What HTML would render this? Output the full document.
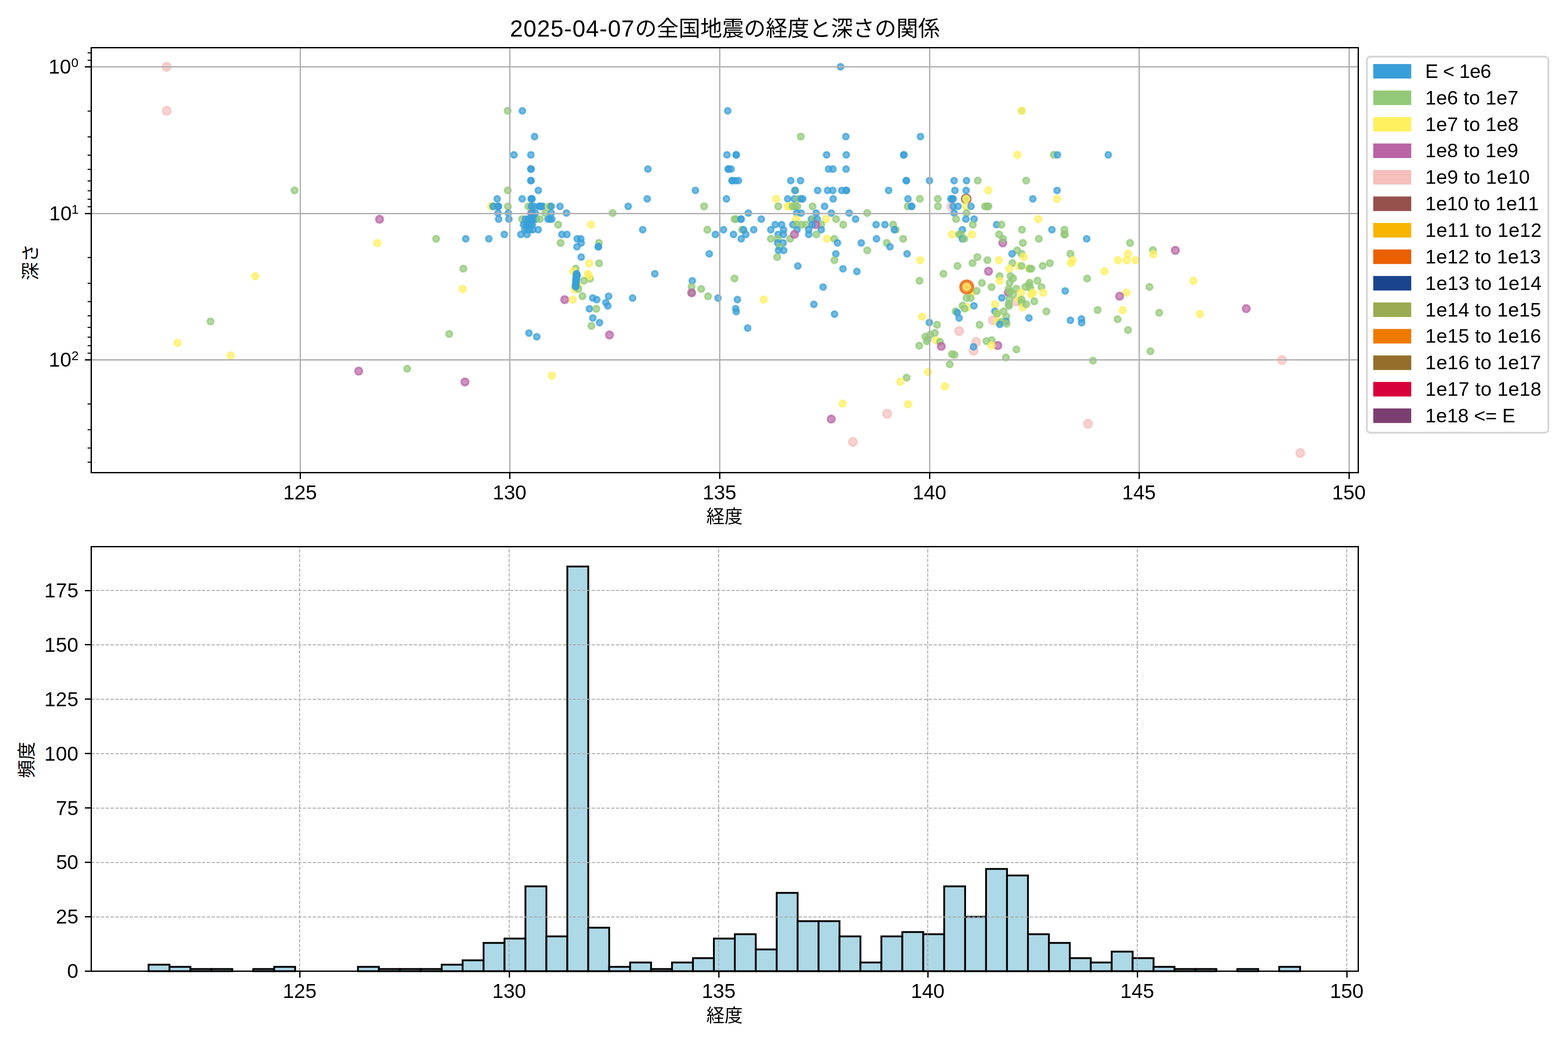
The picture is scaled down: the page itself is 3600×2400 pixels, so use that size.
<!DOCTYPE html>
<html lang="ja"><head><meta charset="utf-8"><title>2025-04-07 earthquakes: longitude vs depth</title>
<style>html,body{margin:0;padding:0;background:#fff}svg{display:block}</style></head>
<body>
<svg width="3600" height="2400" viewBox="0 0 3600 2400" font-family="'Liberation Sans', sans-serif" fill="#000">
<rect width="3600" height="2400" fill="#fff"/>
<clipPath id="ct"><rect x="209.5" y="109.5" width="2909" height="976"/></clipPath>
<g clip-path="url(#ct)" stroke-width="4.17" fill-opacity=".7" stroke-opacity=".7">
<g fill="#fff060" stroke="#fff060">
<circle cx="2230.8" cy="672.5" r="7.6"/>
</g>
<g fill="#ea6000" stroke="#ea6000">
<circle cx="2219.5" cy="659.1" r="15.3"/>
</g>
<g fill="#96504c" stroke="#96504c">
<circle cx="2218.3" cy="456.75" r="10.3"/>
</g>
<g fill="#f6bfbc" stroke="#f6bfbc">
<circle cx="382.5" cy="153.4" r="9.4"/>
<circle cx="382.8" cy="254.52" r="9.4"/>
<circle cx="2184.5" cy="473.93" r="9.4"/>
<circle cx="2202" cy="760.4" r="9.4"/>
<circle cx="2241.1" cy="785.3" r="9.4"/>
<circle cx="2235.3" cy="805.6" r="9.4"/>
<circle cx="2333.5" cy="692.5" r="9.4"/>
<circle cx="2279.5" cy="735.5" r="9.4"/>
<circle cx="1958.2" cy="1015" r="9.4"/>
<circle cx="2036.8" cy="950.3" r="9.4"/>
<circle cx="2498" cy="973.3" r="9.4"/>
<circle cx="2943.3" cy="826.9" r="9.4"/>
<circle cx="2985.3" cy="1040.5" r="9.4"/>
</g>
<g fill="#b964a5" stroke="#b964a5">
<circle cx="1220.6" cy="489.3" r="8.4"/>
<circle cx="871.4" cy="503.6" r="8.4"/>
<circle cx="1296.5" cy="688.3" r="8.4"/>
<circle cx="2302.3" cy="557.86" r="8.4"/>
<circle cx="2269.5" cy="622.97" r="8.4"/>
<circle cx="2314.8" cy="671.9" r="8.4"/>
<circle cx="2291" cy="793.5" r="8.4"/>
<circle cx="823.6" cy="852.3" r="8.4"/>
<circle cx="1067.5" cy="877.3" r="8.4"/>
<circle cx="1399.3" cy="769.3" r="8.4"/>
<circle cx="1908.5" cy="962.5" r="8.4"/>
<circle cx="2698.5" cy="575" r="8.4"/>
<circle cx="2861.3" cy="708.8" r="8.4"/>
</g>
<g fill="#92c978" stroke="#92c978">
<circle cx="676.3" cy="437.27" r="7.2"/>
</g>
<g fill="#fff060" stroke="#fff060">
<circle cx="586.3" cy="634.5" r="7.6"/>
</g>
<g fill="#92c978" stroke="#92c978">
<circle cx="483.3" cy="738.3" r="7.2"/>
</g>
<g fill="#fff060" stroke="#fff060">
<circle cx="407.5" cy="787.5" r="7.6"/>
<circle cx="529.3" cy="816.5" r="7.6"/>
</g>
<g fill="#92c978" stroke="#92c978">
<circle cx="1165.5" cy="254.52" r="7.2"/>
</g>
<g fill="#399fd9" stroke="#399fd9">
<circle cx="1199.3" cy="254.52" r="6.8"/>
<circle cx="1227.3" cy="313.67" r="6.8"/>
<circle cx="1180" cy="355.63" r="6.8"/>
<circle cx="1218.8" cy="355.63" r="6.8"/>
<circle cx="1218.8" cy="388.18" r="6.8"/>
<circle cx="1219.2" cy="388.18" r="6.8"/>
<circle cx="1218.8" cy="414.78" r="6.8"/>
<circle cx="1219.2" cy="414.78" r="6.8"/>
</g>
<g fill="#92c978" stroke="#92c978">
<circle cx="1165.8" cy="437.27" r="7.2"/>
</g>
<g fill="#399fd9" stroke="#399fd9">
<circle cx="1235.9" cy="437.27" r="6.8"/>
<circle cx="1141.5" cy="456.75" r="6.8"/>
<circle cx="1198.9" cy="456.75" r="6.8"/>
<circle cx="1219.5" cy="456.75" r="6.8"/>
<circle cx="1221.5" cy="456.75" r="6.8"/>
<circle cx="1220.4" cy="456.75" r="6.8"/>
</g>
<g fill="#fff060" stroke="#fff060">
<circle cx="1127.5" cy="473.93" r="7.6"/>
</g>
<g fill="#92c978" stroke="#92c978">
<circle cx="1132.3" cy="473.93" r="7.2"/>
</g>
<g fill="#399fd9" stroke="#399fd9">
<circle cx="1132.5" cy="473.93" r="6.8"/>
<circle cx="1144.1" cy="473.93" r="6.8"/>
<circle cx="1144.1" cy="473.93" r="6.8"/>
<circle cx="1143.5" cy="473.93" r="6.8"/>
</g>
<g fill="#92c978" stroke="#92c978">
<circle cx="1166" cy="473.93" r="7.2"/>
<circle cx="1213.1" cy="473.93" r="7.2"/>
<circle cx="1220" cy="473.93" r="7.2"/>
</g>
<g fill="#399fd9" stroke="#399fd9">
<circle cx="1220" cy="473.93" r="6.8"/>
<circle cx="1226" cy="473.93" r="6.8"/>
<circle cx="1237.5" cy="473.93" r="6.8"/>
<circle cx="1242.5" cy="473.93" r="6.8"/>
<circle cx="1246.9" cy="473.93" r="6.8"/>
<circle cx="1240" cy="473.93" r="6.8"/>
</g>
<g fill="#fff060" stroke="#fff060">
<circle cx="1260.5" cy="473.93" r="7.6"/>
</g>
<g fill="#92c978" stroke="#92c978">
<circle cx="1262.5" cy="473.93" r="7.2"/>
</g>
<g fill="#399fd9" stroke="#399fd9">
<circle cx="1265.6" cy="473.93" r="6.8"/>
<circle cx="1285.6" cy="473.93" r="6.8"/>
<circle cx="1143.5" cy="489.3" r="6.8"/>
<circle cx="1167.1" cy="489.3" r="6.8"/>
<circle cx="1222" cy="489.3" r="6.8"/>
<circle cx="1228.8" cy="489.3" r="6.8"/>
</g>
<g fill="#92c978" stroke="#92c978">
<circle cx="1251.9" cy="489.3" r="7.2"/>
</g>
<g fill="#399fd9" stroke="#399fd9">
<circle cx="1265.6" cy="489.3" r="6.8"/>
<circle cx="1300.6" cy="489.3" r="6.8"/>
<circle cx="1144.8" cy="503.2" r="6.8"/>
<circle cx="1168.4" cy="503.2" r="6.8"/>
</g>
<g fill="#92c978" stroke="#92c978">
<circle cx="1198.8" cy="503.2" r="7.2"/>
</g>
<g fill="#399fd9" stroke="#399fd9">
<circle cx="1206.3" cy="503.2" r="6.8"/>
<circle cx="1212.5" cy="503.2" r="6.8"/>
<circle cx="1220" cy="503.2" r="6.8"/>
<circle cx="1225" cy="503.2" r="6.8"/>
<circle cx="1216" cy="503.2" r="6.8"/>
<circle cx="1231.3" cy="503.2" r="6.8"/>
</g>
<g fill="#92c978" stroke="#92c978">
<circle cx="1239.4" cy="503.2" r="7.2"/>
</g>
<g fill="#399fd9" stroke="#399fd9">
<circle cx="1258.1" cy="503.2" r="6.8"/>
<circle cx="1262.5" cy="503.2" r="6.8"/>
<circle cx="1266.9" cy="503.2" r="6.8"/>
<circle cx="1201.9" cy="515.9" r="6.8"/>
<circle cx="1207.5" cy="515.9" r="6.8"/>
<circle cx="1212.5" cy="515.9" r="6.8"/>
<circle cx="1218.8" cy="515.9" r="6.8"/>
<circle cx="1222.5" cy="515.9" r="6.8"/>
<circle cx="1210" cy="515.9" r="6.8"/>
<circle cx="1215" cy="515.9" r="6.8"/>
</g>
<g fill="#92c978" stroke="#92c978">
<circle cx="1281.5" cy="515.9" r="7.2"/>
</g>
<g fill="#fff060" stroke="#fff060">
<circle cx="1356.9" cy="515.9" r="7.6"/>
</g>
<g fill="#399fd9" stroke="#399fd9">
<circle cx="1205" cy="527.57" r="6.8"/>
<circle cx="1210.6" cy="527.57" r="6.8"/>
<circle cx="1216.3" cy="527.57" r="6.8"/>
<circle cx="1223.1" cy="527.57" r="6.8"/>
<circle cx="1235.6" cy="527.57" r="6.8"/>
<circle cx="1157.8" cy="538.38" r="6.8"/>
<circle cx="1196" cy="538.38" r="6.8"/>
<circle cx="1210" cy="538.38" r="6.8"/>
<circle cx="1290" cy="538.38" r="6.8"/>
<circle cx="1301.5" cy="538.38" r="6.8"/>
<circle cx="1122.3" cy="548.45" r="6.8"/>
<circle cx="1069.3" cy="548.45" r="6.8"/>
<circle cx="1325" cy="548.45" r="6.8"/>
<circle cx="1333.5" cy="548.45" r="6.8"/>
</g>
<g fill="#92c978" stroke="#92c978">
<circle cx="1287.1" cy="557.86" r="7.2"/>
</g>
<g fill="#399fd9" stroke="#399fd9">
<circle cx="1334.4" cy="557.86" r="6.8"/>
</g>
<g fill="#92c978" stroke="#92c978">
<circle cx="1375" cy="557.86" r="7.2"/>
</g>
<g fill="#399fd9" stroke="#399fd9">
<circle cx="1324.6" cy="566.71" r="6.8"/>
<circle cx="1373.8" cy="566.71" r="6.8"/>
<circle cx="1373.8" cy="566.71" r="6.8"/>
<circle cx="1334.4" cy="590.42" r="6.8"/>
</g>
<g fill="#fff060" stroke="#fff060">
<circle cx="1352.8" cy="604.8" r="7.6"/>
</g>
<g fill="#92c978" stroke="#92c978">
<circle cx="1375.4" cy="604.8" r="7.2"/>
<circle cx="1321.9" cy="616.9" r="7.2"/>
</g>
<g fill="#fff060" stroke="#fff060">
<circle cx="1316.3" cy="623.1" r="7.6"/>
</g>
<g fill="#92c978" stroke="#92c978">
<circle cx="1325" cy="633.8" r="7.2"/>
<circle cx="1354.4" cy="640" r="7.2"/>
</g>
<g fill="#fff060" stroke="#fff060">
<circle cx="1349.4" cy="628.8" r="7.6"/>
<circle cx="1352.5" cy="635" r="7.6"/>
</g>
<g fill="#92c978" stroke="#92c978">
<circle cx="1340.6" cy="644.6" r="7.2"/>
</g>
<g fill="#fff060" stroke="#fff060">
<circle cx="1327.5" cy="655" r="7.6"/>
<circle cx="1319.4" cy="660" r="7.6"/>
<circle cx="1320" cy="665" r="7.6"/>
</g>
<g fill="#92c978" stroke="#92c978">
<circle cx="1328.1" cy="663.8" r="7.2"/>
</g>
<g fill="#399fd9" stroke="#399fd9">
<circle cx="1323.75" cy="628.75" r="6.8"/>
<circle cx="1323.75" cy="630" r="6.8"/>
<circle cx="1323.5" cy="633.12" r="6.8"/>
<circle cx="1323.25" cy="635.62" r="6.8"/>
<circle cx="1323.12" cy="637.5" r="6.8"/>
<circle cx="1322.88" cy="640" r="6.8"/>
<circle cx="1322.75" cy="641.88" r="6.8"/>
<circle cx="1322.62" cy="644" r="6.8"/>
<circle cx="1322.5" cy="646.25" r="6.8"/>
<circle cx="1322.38" cy="648.5" r="6.8"/>
<circle cx="1322.25" cy="650.62" r="6.8"/>
<circle cx="1322" cy="652.75" r="6.8"/>
<circle cx="1321.88" cy="655" r="6.8"/>
<circle cx="1321.5" cy="658.75" r="6.8"/>
<circle cx="1324.38" cy="631.25" r="6.8"/>
<circle cx="1321.25" cy="656.88" r="6.8"/>
</g>
<g fill="#92c978" stroke="#92c978">
<circle cx="1337.3" cy="680.4" r="7.2"/>
</g>
<g fill="#fff060" stroke="#fff060">
<circle cx="1315" cy="688.3" r="7.6"/>
</g>
<g fill="#399fd9" stroke="#399fd9">
<circle cx="1360.9" cy="684.4" r="6.8"/>
<circle cx="1370" cy="688.1" r="6.8"/>
<circle cx="1353.1" cy="709.1" r="6.8"/>
</g>
<g fill="#92c978" stroke="#92c978">
<circle cx="1369" cy="709.1" r="7.2"/>
</g>
<g fill="#399fd9" stroke="#399fd9">
<circle cx="1361" cy="730.3" r="6.8"/>
<circle cx="1376.5" cy="741" r="6.8"/>
</g>
<g fill="#92c978" stroke="#92c978">
<circle cx="1357.9" cy="748.5" r="7.2"/>
</g>
<g fill="#399fd9" stroke="#399fd9">
<circle cx="1214.4" cy="765" r="6.8"/>
<circle cx="1232.3" cy="773.4" r="6.8"/>
<circle cx="1929.8" cy="153.4" r="6.8"/>
<circle cx="1670.8" cy="254.52" r="6.8"/>
</g>
<g fill="#92c978" stroke="#92c978">
<circle cx="1838.5" cy="313.67" r="7.2"/>
</g>
<g fill="#399fd9" stroke="#399fd9">
<circle cx="1942" cy="313.67" r="6.8"/>
<circle cx="1669" cy="355.63" r="6.8"/>
<circle cx="1690.3" cy="355.63" r="6.8"/>
<circle cx="1690.3" cy="355.63" r="6.8"/>
<circle cx="1897.8" cy="355.63" r="6.8"/>
<circle cx="1943" cy="355.63" r="6.8"/>
<circle cx="1487.5" cy="388.18" r="6.8"/>
<circle cx="1671.8" cy="388.18" r="6.8"/>
<circle cx="1672.5" cy="388.18" r="6.8"/>
<circle cx="1678.5" cy="388.18" r="6.8"/>
<circle cx="1902.3" cy="388.18" r="6.8"/>
<circle cx="1912.3" cy="388.18" r="6.8"/>
<circle cx="1942.5" cy="388.18" r="6.8"/>
<circle cx="1680.5" cy="414.78" r="6.8"/>
<circle cx="1681.5" cy="414.78" r="6.8"/>
<circle cx="1688.5" cy="414.78" r="6.8"/>
<circle cx="1695.5" cy="414.78" r="6.8"/>
<circle cx="1815.5" cy="414.78" r="6.8"/>
<circle cx="1838" cy="414.78" r="6.8"/>
<circle cx="1596.6" cy="437.27" r="6.8"/>
</g>
<g fill="#92c978" stroke="#92c978">
<circle cx="1825.3" cy="437.27" r="7.2"/>
</g>
<g fill="#399fd9" stroke="#399fd9">
<circle cx="1825.5" cy="437.27" r="6.8"/>
<circle cx="1877.3" cy="437.27" r="6.8"/>
<circle cx="1900" cy="437.27" r="6.8"/>
<circle cx="1912" cy="437.27" r="6.8"/>
<circle cx="1932.5" cy="437.27" r="6.8"/>
<circle cx="1942.5" cy="437.27" r="6.8"/>
<circle cx="1943.5" cy="437.27" r="6.8"/>
<circle cx="1486" cy="456.75" r="6.8"/>
<circle cx="1667.8" cy="456.75" r="6.8"/>
</g>
<g fill="#fff060" stroke="#fff060">
<circle cx="1782" cy="456.75" r="7.6"/>
</g>
<g fill="#399fd9" stroke="#399fd9">
<circle cx="1808.4" cy="456.75" r="6.8"/>
<circle cx="1823.5" cy="456.75" r="6.8"/>
</g>
<g fill="#92c978" stroke="#92c978">
<circle cx="1832" cy="456.75" r="7.2"/>
</g>
<g fill="#399fd9" stroke="#399fd9">
<circle cx="1839.3" cy="456.75" r="6.8"/>
<circle cx="1843" cy="456.75" r="6.8"/>
<circle cx="1912.9" cy="456.75" r="6.8"/>
<circle cx="1442.3" cy="473.93" r="6.8"/>
</g>
<g fill="#92c978" stroke="#92c978">
<circle cx="1616.6" cy="473.93" r="7.2"/>
<circle cx="1786.9" cy="473.93" r="7.2"/>
</g>
<g fill="#fff060" stroke="#fff060">
<circle cx="1808.6" cy="473.93" r="7.6"/>
<circle cx="1813" cy="473.93" r="7.6"/>
</g>
<g fill="#92c978" stroke="#92c978">
<circle cx="1819.9" cy="473.93" r="7.2"/>
<circle cx="1825.5" cy="473.93" r="7.2"/>
<circle cx="1830.5" cy="473.93" r="7.2"/>
<circle cx="1865.6" cy="473.93" r="7.2"/>
</g>
<g fill="#399fd9" stroke="#399fd9">
<circle cx="1893.2" cy="473.93" r="6.8"/>
</g>
<g fill="#92c978" stroke="#92c978">
<circle cx="1406.5" cy="489.3" r="7.2"/>
</g>
<g fill="#399fd9" stroke="#399fd9">
<circle cx="1718.2" cy="489.3" r="6.8"/>
<circle cx="1829.3" cy="489.3" r="6.8"/>
<circle cx="1839.3" cy="489.3" r="6.8"/>
<circle cx="1873.8" cy="489.3" r="6.8"/>
<circle cx="1908.6" cy="489.3" r="6.8"/>
<circle cx="1949.6" cy="489.3" r="6.8"/>
</g>
<g fill="#92c978" stroke="#92c978">
<circle cx="1686.5" cy="503.2" r="7.2"/>
<circle cx="1689.9" cy="503.2" r="7.2"/>
</g>
<g fill="#399fd9" stroke="#399fd9">
<circle cx="1701.1" cy="503.2" r="6.8"/>
<circle cx="1701.5" cy="503.2" r="6.8"/>
<circle cx="1747.8" cy="503.2" r="6.8"/>
</g>
<g fill="#fff060" stroke="#fff060">
<circle cx="1827.6" cy="503.2" r="7.6"/>
</g>
<g fill="#399fd9" stroke="#399fd9">
<circle cx="1863" cy="503.2" r="6.8"/>
</g>
<g fill="#92c978" stroke="#92c978">
<circle cx="1866.8" cy="503.2" r="7.2"/>
</g>
<g fill="#399fd9" stroke="#399fd9">
<circle cx="1876.1" cy="503.2" r="6.8"/>
</g>
<g fill="#fff060" stroke="#fff060">
<circle cx="1896.5" cy="503.2" r="7.6"/>
</g>
<g fill="#92c978" stroke="#92c978">
<circle cx="1919.6" cy="503.2" r="7.2"/>
</g>
<g fill="#399fd9" stroke="#399fd9">
<circle cx="1964.3" cy="503.2" r="6.8"/>
<circle cx="1779.9" cy="515.9" r="6.8"/>
<circle cx="1794.5" cy="515.9" r="6.8"/>
<circle cx="1820.5" cy="515.9" r="6.8"/>
</g>
<g fill="#92c978" stroke="#92c978">
<circle cx="1829.3" cy="515.9" r="7.2"/>
<circle cx="1840.5" cy="515.9" r="7.2"/>
<circle cx="1850.5" cy="515.9" r="7.2"/>
<circle cx="1885.5" cy="515.9" r="7.2"/>
<circle cx="1935.9" cy="515.9" r="7.2"/>
</g>
<g fill="#399fd9" stroke="#399fd9">
<circle cx="1475.6" cy="527.57" r="6.8"/>
</g>
<g fill="#92c978" stroke="#92c978">
<circle cx="1624" cy="527.57" r="7.2"/>
</g>
<g fill="#399fd9" stroke="#399fd9">
<circle cx="1661.1" cy="527.57" r="6.8"/>
</g>
<g fill="#92c978" stroke="#92c978">
<circle cx="1703.6" cy="527.57" r="7.2"/>
</g>
<g fill="#399fd9" stroke="#399fd9">
<circle cx="1707.4" cy="527.57" r="6.8"/>
<circle cx="1730.5" cy="527.57" r="6.8"/>
<circle cx="1769.6" cy="527.57" r="6.8"/>
<circle cx="1799" cy="527.57" r="6.8"/>
<circle cx="1829.9" cy="527.57" r="6.8"/>
<circle cx="1856.8" cy="527.57" r="6.8"/>
<circle cx="1885.5" cy="527.57" r="6.8"/>
<circle cx="1642.5" cy="538.38" r="6.8"/>
<circle cx="1684" cy="538.38" r="6.8"/>
<circle cx="1712.4" cy="538.38" r="6.8"/>
<circle cx="1786.8" cy="538.38" r="6.8"/>
<circle cx="1798.6" cy="538.38" r="6.8"/>
<circle cx="1856.8" cy="538.38" r="6.8"/>
</g>
<g fill="#92c978" stroke="#92c978">
<circle cx="1874.3" cy="538.38" r="7.2"/>
</g>
<g fill="#399fd9" stroke="#399fd9">
<circle cx="1701.8" cy="548.45" r="6.8"/>
</g>
<g fill="#92c978" stroke="#92c978">
<circle cx="1769.9" cy="548.45" r="7.2"/>
<circle cx="1786" cy="548.45" r="7.2"/>
<circle cx="1814" cy="548.45" r="7.2"/>
</g>
<g fill="#fff060" stroke="#fff060">
<circle cx="1899" cy="548.45" r="7.6"/>
</g>
<g fill="#92c978" stroke="#92c978">
<circle cx="1915.5" cy="548.45" r="7.2"/>
</g>
<g fill="#399fd9" stroke="#399fd9">
<circle cx="1785.5" cy="557.86" r="6.8"/>
<circle cx="1798" cy="557.86" r="6.8"/>
<circle cx="1922.8" cy="557.86" r="6.8"/>
<circle cx="1977.4" cy="557.86" r="6.8"/>
</g>
<g fill="#92c978" stroke="#92c978">
<circle cx="1789.9" cy="566.71" r="7.2"/>
</g>
<g fill="#399fd9" stroke="#399fd9">
<circle cx="1787.4" cy="575.05" r="6.8"/>
<circle cx="1799.3" cy="575.05" r="6.8"/>
<circle cx="1628.4" cy="582.93" r="6.8"/>
<circle cx="1919" cy="582.93" r="6.8"/>
</g>
<g fill="#92c978" stroke="#92c978">
<circle cx="1784.3" cy="590.42" r="7.2"/>
<circle cx="1915.8" cy="597.53" r="7.2"/>
</g>
<g fill="#399fd9" stroke="#399fd9">
<circle cx="1831.8" cy="611" r="6.8"/>
<circle cx="1935.3" cy="617.3" r="6.8"/>
<circle cx="1967.4" cy="623.5" r="6.8"/>
<circle cx="1503.4" cy="628.8" r="6.8"/>
</g>
<g fill="#92c978" stroke="#92c978">
<circle cx="1686.3" cy="639.5" r="7.2"/>
<circle cx="2345.8" cy="254.52" r="7.2"/>
</g>
<g fill="#fff060" stroke="#fff060">
<circle cx="2345.8" cy="254.52" r="7.6"/>
</g>
<g fill="#399fd9" stroke="#399fd9">
<circle cx="2113.3" cy="313.67" r="6.8"/>
<circle cx="2075" cy="355.63" r="6.8"/>
<circle cx="2075" cy="355.63" r="6.8"/>
</g>
<g fill="#fff060" stroke="#fff060">
<circle cx="2335.8" cy="355.63" r="7.6"/>
</g>
<g fill="#92c978" stroke="#92c978">
<circle cx="2419.5" cy="355.63" r="7.2"/>
</g>
<g fill="#399fd9" stroke="#399fd9">
<circle cx="2427.8" cy="355.63" r="6.8"/>
<circle cx="2544.5" cy="355.63" r="6.8"/>
<circle cx="2080.8" cy="414.78" r="6.8"/>
<circle cx="2080.8" cy="414.78" r="6.8"/>
<circle cx="2134" cy="414.78" r="6.8"/>
<circle cx="2190.5" cy="414.78" r="6.8"/>
<circle cx="2219" cy="414.78" r="6.8"/>
</g>
<g fill="#92c978" stroke="#92c978">
<circle cx="2244.8" cy="414.78" r="7.2"/>
<circle cx="2356" cy="414.78" r="7.2"/>
</g>
<g fill="#399fd9" stroke="#399fd9">
<circle cx="2040.2" cy="437.27" r="6.8"/>
<circle cx="2192.4" cy="437.27" r="6.8"/>
<circle cx="2218.2" cy="437.27" r="6.8"/>
</g>
<g fill="#fff060" stroke="#fff060">
<circle cx="2269" cy="437.27" r="7.6"/>
</g>
<g fill="#399fd9" stroke="#399fd9">
<circle cx="2427" cy="437.27" r="6.8"/>
<circle cx="2084.6" cy="456.75" r="6.8"/>
</g>
<g fill="#92c978" stroke="#92c978">
<circle cx="2111.8" cy="456.75" r="7.2"/>
<circle cx="2153.1" cy="456.75" r="7.2"/>
</g>
<g fill="#399fd9" stroke="#399fd9">
<circle cx="2183" cy="456.75" r="6.8"/>
<circle cx="2188.6" cy="456.75" r="6.8"/>
<circle cx="2186" cy="456.75" r="6.8"/>
</g>
<g fill="#92c978" stroke="#92c978">
<circle cx="2218.3" cy="456.75" r="7.2"/>
</g>
<g fill="#fff060" stroke="#fff060">
<circle cx="2218.3" cy="456.75" r="7.6"/>
</g>
<g fill="#399fd9" stroke="#399fd9">
<circle cx="2371.2" cy="456.75" r="6.8"/>
</g>
<g fill="#fff060" stroke="#fff060">
<circle cx="2426.8" cy="456.75" r="7.6"/>
</g>
<g fill="#92c978" stroke="#92c978">
<circle cx="2084" cy="473.93" r="7.2"/>
</g>
<g fill="#399fd9" stroke="#399fd9">
<circle cx="2093" cy="473.93" r="6.8"/>
<circle cx="2093" cy="473.93" r="6.8"/>
</g>
<g fill="#92c978" stroke="#92c978">
<circle cx="2153.4" cy="473.93" r="7.2"/>
</g>
<g fill="#399fd9" stroke="#399fd9">
<circle cx="2188.3" cy="473.93" r="6.8"/>
<circle cx="2199.6" cy="473.93" r="6.8"/>
</g>
<g fill="#fff060" stroke="#fff060">
<circle cx="2217.7" cy="473.93" r="7.6"/>
</g>
<g fill="#399fd9" stroke="#399fd9">
<circle cx="2229.5" cy="473.93" r="6.8"/>
</g>
<g fill="#92c978" stroke="#92c978">
<circle cx="2261.4" cy="473.93" r="7.2"/>
<circle cx="2266.4" cy="473.93" r="7.2"/>
<circle cx="2269.5" cy="473.93" r="7.2"/>
<circle cx="1991" cy="489.3" r="7.2"/>
</g>
<g fill="#399fd9" stroke="#399fd9">
<circle cx="2190.6" cy="489.3" r="6.8"/>
</g>
<g fill="#92c978" stroke="#92c978">
<circle cx="2219.1" cy="489.3" r="7.2"/>
<circle cx="2195.1" cy="503.2" r="7.2"/>
</g>
<g fill="#399fd9" stroke="#399fd9">
<circle cx="2217.6" cy="503.2" r="6.8"/>
<circle cx="2236.4" cy="503.2" r="6.8"/>
</g>
<g fill="#fff060" stroke="#fff060">
<circle cx="2383.8" cy="503.2" r="7.6"/>
</g>
<g fill="#399fd9" stroke="#399fd9">
<circle cx="2011.4" cy="515.9" r="6.8"/>
<circle cx="2031.8" cy="515.9" r="6.8"/>
</g>
<g fill="#92c978" stroke="#92c978">
<circle cx="2050.5" cy="515.9" r="7.2"/>
<circle cx="2233.5" cy="515.9" r="7.2"/>
</g>
<g fill="#399fd9" stroke="#399fd9">
<circle cx="2288.1" cy="515.9" r="6.8"/>
</g>
<g fill="#92c978" stroke="#92c978">
<circle cx="2299.1" cy="515.9" r="7.2"/>
<circle cx="2056.4" cy="527.57" r="7.2"/>
</g>
<g fill="#399fd9" stroke="#399fd9">
<circle cx="2053.3" cy="527.57" r="6.8"/>
<circle cx="2209.5" cy="527.57" r="6.8"/>
</g>
<g fill="#92c978" stroke="#92c978">
<circle cx="2346.4" cy="527.57" r="7.2"/>
</g>
<g fill="#399fd9" stroke="#399fd9">
<circle cx="2415.1" cy="527.57" r="6.8"/>
</g>
<g fill="#92c978" stroke="#92c978">
<circle cx="2443.9" cy="527.57" r="7.2"/>
</g>
<g fill="#fff060" stroke="#fff060">
<circle cx="2185.5" cy="538.38" r="7.6"/>
</g>
<g fill="#92c978" stroke="#92c978">
<circle cx="2202" cy="538.38" r="7.2"/>
<circle cx="2205.8" cy="538.38" r="7.2"/>
</g>
<g fill="#fff060" stroke="#fff060">
<circle cx="2231.4" cy="538.38" r="7.6"/>
</g>
<g fill="#92c978" stroke="#92c978">
<circle cx="2293.8" cy="538.38" r="7.2"/>
<circle cx="2443.9" cy="538.38" r="7.2"/>
<circle cx="2444.5" cy="538.38" r="7.2"/>
</g>
<g fill="#399fd9" stroke="#399fd9">
<circle cx="2012.4" cy="548.45" r="6.8"/>
</g>
<g fill="#92c978" stroke="#92c978">
<circle cx="2073.6" cy="548.45" r="7.2"/>
</g>
<g fill="#399fd9" stroke="#399fd9">
<circle cx="2209.5" cy="548.45" r="6.8"/>
</g>
<g fill="#92c978" stroke="#92c978">
<circle cx="2213.9" cy="548.45" r="7.2"/>
<circle cx="2302.9" cy="548.45" r="7.2"/>
<circle cx="2385" cy="548.45" r="7.2"/>
</g>
<g fill="#399fd9" stroke="#399fd9">
<circle cx="2495" cy="548.45" r="6.8"/>
</g>
<g fill="#92c978" stroke="#92c978">
<circle cx="2036" cy="557.86" r="7.2"/>
<circle cx="2348.3" cy="557.86" r="7.2"/>
<circle cx="2594.5" cy="557.86" r="7.2"/>
</g>
<g fill="#399fd9" stroke="#399fd9">
<circle cx="2043.3" cy="566.71" r="6.8"/>
</g>
<g fill="#92c978" stroke="#92c978">
<circle cx="1991.1" cy="575.05" r="7.2"/>
<circle cx="2335.4" cy="575.05" r="7.2"/>
</g>
<g fill="#399fd9" stroke="#399fd9">
<circle cx="2082.6" cy="582.93" r="6.8"/>
<circle cx="2323.5" cy="582.93" r="6.8"/>
</g>
<g fill="#92c978" stroke="#92c978">
<circle cx="2345.6" cy="582.93" r="7.2"/>
<circle cx="2457.6" cy="582.93" r="7.2"/>
</g>
<g fill="#fff060" stroke="#fff060">
<circle cx="2589.5" cy="582.93" r="7.6"/>
</g>
<g fill="#92c978" stroke="#92c978">
<circle cx="2243.9" cy="590.42" r="7.2"/>
</g>
<g fill="#fff060" stroke="#fff060">
<circle cx="2350.6" cy="590.42" r="7.6"/>
<circle cx="2112.6" cy="597.53" r="7.6"/>
</g>
<g fill="#92c978" stroke="#92c978">
<circle cx="2267" cy="597.53" r="7.2"/>
</g>
<g fill="#fff060" stroke="#fff060">
<circle cx="2293.5" cy="597.53" r="7.6"/>
<circle cx="2462.5" cy="597.53" r="7.6"/>
<circle cx="2566.7" cy="597.53" r="7.6"/>
<circle cx="2586.8" cy="597.53" r="7.6"/>
<circle cx="2607" cy="597.53" r="7.6"/>
</g>
<g fill="#92c978" stroke="#92c978">
<circle cx="2232.9" cy="604.32" r="7.2"/>
<circle cx="2324.4" cy="604.32" r="7.2"/>
<circle cx="2410.4" cy="604.32" r="7.2"/>
</g>
<g fill="#fff060" stroke="#fff060">
<circle cx="2458.9" cy="604.32" r="7.6"/>
</g>
<g fill="#92c978" stroke="#92c978">
<circle cx="2198.3" cy="610.8" r="7.2"/>
</g>
<g fill="#fff060" stroke="#fff060">
<circle cx="2339.1" cy="610.8" r="7.6"/>
</g>
<g fill="#92c978" stroke="#92c978">
<circle cx="2345.4" cy="610.8" r="7.2"/>
<circle cx="2393.9" cy="610.8" r="7.2"/>
</g>
<g fill="#fff060" stroke="#fff060">
<circle cx="2317.3" cy="617.01" r="7.6"/>
<circle cx="2362.3" cy="617.01" r="7.6"/>
</g>
<g fill="#92c978" stroke="#92c978">
<circle cx="2364.1" cy="617.01" r="7.2"/>
<circle cx="2367.9" cy="617.01" r="7.2"/>
</g>
<g fill="#fff060" stroke="#fff060">
<circle cx="2535.8" cy="622.97" r="7.6"/>
</g>
<g fill="#92c978" stroke="#92c978">
<circle cx="2166.1" cy="628.8" r="7.2"/>
<circle cx="2111" cy="644.8" r="7.2"/>
</g>
<g fill="#fff060" stroke="#fff060">
<circle cx="2219.5" cy="659.1" r="7.6"/>
</g>
<g fill="#92c978" stroke="#92c978">
<circle cx="2254.5" cy="649.8" r="7.2"/>
<circle cx="2276.5" cy="659.4" r="7.2"/>
<circle cx="2242.4" cy="668.1" r="7.2"/>
<circle cx="2219.1" cy="684.4" r="7.2"/>
<circle cx="2228.5" cy="684.4" r="7.2"/>
<circle cx="2210.1" cy="701.9" r="7.2"/>
</g>
<g fill="#fff060" stroke="#fff060">
<circle cx="2221" cy="705.6" r="7.6"/>
</g>
<g fill="#92c978" stroke="#92c978">
<circle cx="2214.5" cy="708.8" r="7.2"/>
</g>
<g fill="#399fd9" stroke="#399fd9">
<circle cx="2236.1" cy="702.3" r="6.8"/>
</g>
<g fill="#92c978" stroke="#92c978">
<circle cx="2193.9" cy="715" r="7.2"/>
</g>
<g fill="#399fd9" stroke="#399fd9">
<circle cx="2197.9" cy="717.9" r="6.8"/>
<circle cx="2202" cy="730.3" r="6.8"/>
</g>
<g fill="#fff060" stroke="#fff060">
<circle cx="2116.8" cy="727.3" r="7.6"/>
</g>
<g fill="#399fd9" stroke="#399fd9">
<circle cx="2133.6" cy="740.6" r="6.8"/>
</g>
<g fill="#92c978" stroke="#92c978">
<circle cx="2151.4" cy="745.9" r="7.2"/>
<circle cx="2249.1" cy="745.9" r="7.2"/>
<circle cx="2146.1" cy="764.8" r="7.2"/>
<circle cx="2135.8" cy="768.8" r="7.2"/>
<circle cx="2124.5" cy="773.1" r="7.2"/>
<circle cx="2130.1" cy="778.8" r="7.2"/>
<circle cx="2127.6" cy="783.8" r="7.2"/>
</g>
<g fill="#fff060" stroke="#fff060">
<circle cx="2149.5" cy="781.6" r="7.6"/>
</g>
<g fill="#92c978" stroke="#92c978">
<circle cx="2158.3" cy="785" r="7.2"/>
<circle cx="2110.6" cy="794" r="7.2"/>
<circle cx="2264.8" cy="783.4" r="7.2"/>
<circle cx="2277" cy="781.2" r="7.2"/>
</g>
<g fill="#399fd9" stroke="#399fd9">
<circle cx="2235.1" cy="796.5" r="6.8"/>
</g>
<g fill="#fff060" stroke="#fff060">
<circle cx="2276.5" cy="793.5" r="7.6"/>
</g>
<g fill="#92c978" stroke="#92c978">
<circle cx="2185.6" cy="813.4" r="7.2"/>
<circle cx="2191.6" cy="815" r="7.2"/>
<circle cx="2295" cy="634.1" r="7.2"/>
</g>
<g fill="#fff060" stroke="#fff060">
<circle cx="2295.4" cy="645" r="7.6"/>
</g>
<g fill="#92c978" stroke="#92c978">
<circle cx="2320" cy="634.1" r="7.2"/>
<circle cx="2326" cy="639.4" r="7.2"/>
<circle cx="2318.1" cy="649.8" r="7.2"/>
<circle cx="2496" cy="639.8" r="7.2"/>
<circle cx="2382" cy="644.6" r="7.2"/>
<circle cx="2363.8" cy="649.4" r="7.2"/>
<circle cx="2362.3" cy="655" r="7.2"/>
<circle cx="2354.1" cy="659.1" r="7.2"/>
<circle cx="2365.4" cy="661.3" r="7.2"/>
<circle cx="2391" cy="659.1" r="7.2"/>
<circle cx="2315.8" cy="663.8" r="7.2"/>
<circle cx="2333.5" cy="663.1" r="7.2"/>
<circle cx="2318.5" cy="670" r="7.2"/>
<circle cx="2326" cy="676.3" r="7.2"/>
</g>
<g fill="#fff060" stroke="#fff060">
<circle cx="2344.1" cy="672.3" r="7.6"/>
<circle cx="2371.6" cy="672.3" r="7.6"/>
<circle cx="2367.3" cy="676.3" r="7.6"/>
<circle cx="2395" cy="672.3" r="7.6"/>
</g>
<g fill="#399fd9" stroke="#399fd9">
<circle cx="2445.6" cy="668.1" r="6.8"/>
<circle cx="2300.1" cy="684.1" r="6.8"/>
</g>
<g fill="#92c978" stroke="#92c978">
<circle cx="2317.3" cy="687.5" r="7.2"/>
<circle cx="2315.4" cy="698.1" r="7.2"/>
<circle cx="2316.6" cy="702.5" r="7.2"/>
</g>
<g fill="#fff060" stroke="#fff060">
<circle cx="2339.8" cy="688.1" r="7.6"/>
</g>
<g fill="#92c978" stroke="#92c978">
<circle cx="2345.4" cy="688.1" r="7.2"/>
<circle cx="2345.4" cy="695" r="7.2"/>
</g>
<g fill="#fff060" stroke="#fff060">
<circle cx="2348.1" cy="705.6" r="7.6"/>
</g>
<g fill="#92c978" stroke="#92c978">
<circle cx="2356" cy="698.8" r="7.2"/>
<circle cx="2374.5" cy="691.9" r="7.2"/>
</g>
<g fill="#fff060" stroke="#fff060">
<circle cx="2284.8" cy="698.8" r="7.6"/>
</g>
<g fill="#92c978" stroke="#92c978">
<circle cx="2402.5" cy="715.3" r="7.2"/>
<circle cx="2520" cy="712.1" r="7.2"/>
</g>
<g fill="#399fd9" stroke="#399fd9">
<circle cx="2284.1" cy="715" r="6.8"/>
</g>
<g fill="#92c978" stroke="#92c978">
<circle cx="2304.1" cy="715" r="7.2"/>
</g>
<g fill="#fff060" stroke="#fff060">
<circle cx="2289.1" cy="720.6" r="7.6"/>
</g>
<g fill="#92c978" stroke="#92c978">
<circle cx="2289.1" cy="720.6" r="7.2"/>
<circle cx="2310.4" cy="726.9" r="7.2"/>
</g>
<g fill="#fff060" stroke="#fff060">
<circle cx="2289.8" cy="738.8" r="7.6"/>
</g>
<g fill="#399fd9" stroke="#399fd9">
<circle cx="2309.8" cy="738.1" r="6.8"/>
</g>
<g fill="#92c978" stroke="#92c978">
<circle cx="2299.1" cy="738.8" r="7.2"/>
</g>
<g fill="#399fd9" stroke="#399fd9">
<circle cx="2295.4" cy="745" r="6.8"/>
</g>
<g fill="#92c978" stroke="#92c978">
<circle cx="2311" cy="743.5" r="7.2"/>
</g>
<g fill="#399fd9" stroke="#399fd9">
<circle cx="2362.3" cy="730.3" r="6.8"/>
<circle cx="2457.6" cy="735.6" r="6.8"/>
<circle cx="2482.9" cy="732.5" r="6.8"/>
<circle cx="2483.3" cy="741.3" r="6.8"/>
</g>
<g fill="#92c978" stroke="#92c978">
<circle cx="2566" cy="733" r="7.2"/>
</g>
<g fill="#fff060" stroke="#fff060">
<circle cx="2577.5" cy="712.3" r="7.6"/>
</g>
<g fill="#92c978" stroke="#92c978">
<circle cx="2333.6" cy="802.5" r="7.2"/>
<circle cx="2309.4" cy="821" r="7.2"/>
</g>
<g fill="#fff060" stroke="#fff060">
<circle cx="866.3" cy="558.3" r="7.6"/>
</g>
<g fill="#92c978" stroke="#92c978">
<circle cx="1001.3" cy="548.45" r="7.2"/>
<circle cx="1063.8" cy="617" r="7.2"/>
</g>
<g fill="#fff060" stroke="#fff060">
<circle cx="1062.3" cy="663.8" r="7.6"/>
</g>
<g fill="#92c978" stroke="#92c978">
<circle cx="1031.3" cy="767" r="7.2"/>
<circle cx="935" cy="846.8" r="7.2"/>
</g>
<g fill="#fff060" stroke="#fff060">
<circle cx="1266.9" cy="862.6" r="7.6"/>
</g>
<g fill="#399fd9" stroke="#399fd9">
<circle cx="1589.5" cy="645" r="6.8"/>
</g>
<g fill="#92c978" stroke="#92c978">
<circle cx="1587.8" cy="658.8" r="7.2"/>
<circle cx="1588" cy="672.5" r="7.2"/>
<circle cx="1609.8" cy="663.8" r="7.2"/>
<circle cx="1625.5" cy="680.5" r="7.2"/>
</g>
<g fill="#399fd9" stroke="#399fd9">
<circle cx="1648.5" cy="684.5" r="6.8"/>
<circle cx="1693" cy="688" r="6.8"/>
<circle cx="1689" cy="708.8" r="6.8"/>
<circle cx="1690.3" cy="715.8" r="6.8"/>
</g>
<g fill="#fff060" stroke="#fff060">
<circle cx="1753.5" cy="688" r="7.6"/>
</g>
<g fill="#399fd9" stroke="#399fd9">
<circle cx="1716.5" cy="753.5" r="6.8"/>
<circle cx="1397.3" cy="680.3" r="6.8"/>
<circle cx="1391" cy="695" r="6.8"/>
<circle cx="1395.5" cy="702.5" r="6.8"/>
<circle cx="1452.3" cy="684.5" r="6.8"/>
<circle cx="1889.8" cy="659.3" r="6.8"/>
<circle cx="1868.5" cy="699" r="6.8"/>
<circle cx="1916" cy="721.5" r="6.8"/>
</g>
<g fill="#fff060" stroke="#fff060">
<circle cx="1934.5" cy="926.8" r="7.6"/>
</g>
<g fill="#92c978" stroke="#92c978">
<circle cx="2509.3" cy="828.3" r="7.2"/>
<circle cx="2180.5" cy="836.8" r="7.2"/>
</g>
<g fill="#fff060" stroke="#fff060">
<circle cx="2130.5" cy="854.5" r="7.6"/>
</g>
<g fill="#92c978" stroke="#92c978">
<circle cx="2081.5" cy="867.3" r="7.2"/>
</g>
<g fill="#fff060" stroke="#fff060">
<circle cx="2067" cy="876.8" r="7.6"/>
<circle cx="2169.3" cy="887.5" r="7.6"/>
<circle cx="2085" cy="928.3" r="7.6"/>
</g>
<g fill="#92c978" stroke="#92c978">
<circle cx="2647" cy="574.5" r="7.2"/>
</g>
<g fill="#fff060" stroke="#fff060">
<circle cx="2648" cy="583.8" r="7.6"/>
<circle cx="2739.8" cy="644.8" r="7.6"/>
</g>
<g fill="#92c978" stroke="#92c978">
<circle cx="2639" cy="659" r="7.2"/>
</g>
<g fill="#fff060" stroke="#fff060">
<circle cx="2586.3" cy="672" r="7.6"/>
</g>
<g fill="#92c978" stroke="#92c978">
<circle cx="2661.5" cy="718.3" r="7.2"/>
</g>
<g fill="#fff060" stroke="#fff060">
<circle cx="2755" cy="721.3" r="7.6"/>
</g>
<g fill="#92c978" stroke="#92c978">
<circle cx="2589.8" cy="758" r="7.2"/>
<circle cx="2641.3" cy="806.8" r="7.2"/>
</g>
<g fill="#b964a5" stroke="#b964a5">
<circle cx="1872.8" cy="515.9" r="8.4"/>
<circle cx="1823.9" cy="538.38" r="8.4"/>
<circle cx="2161.1" cy="795.5" r="8.4"/>
<circle cx="2570.5" cy="680.3" r="8.4"/>
<circle cx="1588" cy="672.5" r="8.4"/>
</g>
<g fill="#399fd9" stroke="#399fd9">
<circle cx="1864.9" cy="515.9" r="6.8"/>
</g></g>
<g stroke="#b0b0b0" stroke-width="3">
<line x1="689.5" y1="109.5" x2="689.5" y2="1085.5"/>
<line x1="1170.5" y1="109.5" x2="1170.5" y2="1085.5"/>
<line x1="1652.5" y1="109.5" x2="1652.5" y2="1085.5"/>
<line x1="2134.5" y1="109.5" x2="2134.5" y2="1085.5"/>
<line x1="2615.5" y1="109.5" x2="2615.5" y2="1085.5"/>
<line x1="3097.5" y1="109.5" x2="3097.5" y2="1085.5"/>
<line x1="209.5" y1="153.5" x2="3118.5" y2="153.5"/>
<line x1="209.5" y1="490.5" x2="3118.5" y2="490.5"/>
<line x1="209.5" y1="826.5" x2="3118.5" y2="826.5"/>
</g>
<g stroke="#000" stroke-width="3">
<line x1="689.5" y1="1085.5" x2="689.5" y2="1100.1"/>
<line x1="1170.5" y1="1085.5" x2="1170.5" y2="1100.1"/>
<line x1="1652.5" y1="1085.5" x2="1652.5" y2="1100.1"/>
<line x1="2134.5" y1="1085.5" x2="2134.5" y2="1100.1"/>
<line x1="2615.5" y1="1085.5" x2="2615.5" y2="1100.1"/>
<line x1="3097.5" y1="1085.5" x2="3097.5" y2="1100.1"/>
<line x1="194.9" y1="153.5" x2="209.5" y2="153.5"/>
<line x1="194.9" y1="490.5" x2="209.5" y2="490.5"/>
<line x1="194.9" y1="826.5" x2="209.5" y2="826.5"/>
</g>
<g stroke="#000" stroke-width="2.5">
<line x1="201.17" y1="121.31" x2="209.5" y2="121.31"/>
<line x1="201.17" y1="138.51" x2="209.5" y2="138.51"/>
<line x1="201.17" y1="255.14" x2="209.5" y2="255.14"/>
<line x1="201.17" y1="314.36" x2="209.5" y2="314.36"/>
<line x1="201.17" y1="356.37" x2="209.5" y2="356.37"/>
<line x1="201.17" y1="388.96" x2="209.5" y2="388.96"/>
<line x1="201.17" y1="415.59" x2="209.5" y2="415.59"/>
<line x1="201.17" y1="438.11" x2="209.5" y2="438.11"/>
<line x1="201.17" y1="457.61" x2="209.5" y2="457.61"/>
<line x1="201.17" y1="474.81" x2="209.5" y2="474.81"/>
<line x1="201.17" y1="591.44" x2="209.5" y2="591.44"/>
<line x1="201.17" y1="650.66" x2="209.5" y2="650.66"/>
<line x1="201.17" y1="692.67" x2="209.5" y2="692.67"/>
<line x1="201.17" y1="725.26" x2="209.5" y2="725.26"/>
<line x1="201.17" y1="751.89" x2="209.5" y2="751.89"/>
<line x1="201.17" y1="774.41" x2="209.5" y2="774.41"/>
<line x1="201.17" y1="793.91" x2="209.5" y2="793.91"/>
<line x1="201.17" y1="811.11" x2="209.5" y2="811.11"/>
<line x1="201.17" y1="927.74" x2="209.5" y2="927.74"/>
<line x1="201.17" y1="986.96" x2="209.5" y2="986.96"/>
<line x1="201.17" y1="1028.97" x2="209.5" y2="1028.97"/>
<line x1="201.17" y1="1061.56" x2="209.5" y2="1061.56"/>
</g>
<rect x="209.5" y="109.5" width="2909" height="976" fill="none" stroke="#000" stroke-width="3"/>
<rect x="3138.2" y="130.1" width="416.7" height="863.8" rx="8.3" fill="#fff" fill-opacity=".8" stroke="#ccc" stroke-opacity=".8" stroke-width="4.17"/>
<rect x="3152.9" y="147" width="87.2" height="33.4" fill="#399fd9"/>
<rect x="3152.9" y="207.85" width="87.2" height="33.4" fill="#92c978"/>
<rect x="3152.9" y="268.7" width="87.2" height="33.4" fill="#fff060"/>
<rect x="3152.9" y="329.55" width="87.2" height="33.4" fill="#b964a5"/>
<rect x="3152.9" y="390.4" width="87.2" height="33.4" fill="#f6bfbc"/>
<rect x="3152.9" y="451.25" width="87.2" height="33.4" fill="#96504c"/>
<rect x="3152.9" y="512.1" width="87.2" height="33.4" fill="#f6b500"/>
<rect x="3152.9" y="572.95" width="87.2" height="33.4" fill="#ea6000"/>
<rect x="3152.9" y="633.8" width="87.2" height="33.4" fill="#1b448e"/>
<rect x="3152.9" y="694.65" width="87.2" height="33.4" fill="#9bab50"/>
<rect x="3152.9" y="755.5" width="87.2" height="33.4" fill="#ef7a00"/>
<rect x="3152.9" y="816.35" width="87.2" height="33.4" fill="#946e2a"/>
<rect x="3152.9" y="877.2" width="87.2" height="33.4" fill="#d7003a"/>
<rect x="3152.9" y="938.05" width="87.2" height="33.4" fill="#7c4070"/>
<g style="font-kerning:none;will-change:transform">
<text x="650.16" y="1147.1" font-size="46.5" letter-spacing="-0.04">125</text>
<text x="1131.16" y="1147.1" font-size="46.5" letter-spacing="-0.11">130</text>
<text x="1613.16" y="1147.1" font-size="46.5" letter-spacing="-0.04">135</text>
<text x="2095.16" y="1147.1" font-size="46.5" letter-spacing="-0.11">140</text>
<text x="2576.16" y="1147.1" font-size="46.5" letter-spacing="-0.04">145</text>
<text x="3058.16" y="1147.1" font-size="46.5" letter-spacing="-0.11">150</text>
<text x="163.59" y="153.7" font-size="30">0</text>
<text x="111.42" y="169.1" font-size="46.5" letter-spacing="0.04">10</text>
<text x="163.88" y="490.7" font-size="30">1</text>
<text x="112.82" y="506.1" font-size="46.5" letter-spacing="0.04">10</text>
<text x="163.92" y="826.7" font-size="30">2</text>
<text x="112.09" y="842.1" font-size="46.5" letter-spacing="0.04">10</text>
<text x="649.26" y="2291.8" font-size="46.5" letter-spacing="-0.04">125</text>
<text x="1130.26" y="2291.8" font-size="46.5" letter-spacing="-0.11">130</text>
<text x="1611.26" y="2291.8" font-size="46.5" letter-spacing="-0.04">135</text>
<text x="2091.26" y="2291.8" font-size="46.5" letter-spacing="-0.11">140</text>
<text x="2572.26" y="2291.8" font-size="46.5" letter-spacing="-0.04">145</text>
<text x="3053.26" y="2291.8" font-size="46.5" letter-spacing="-0.11">150</text>
<text x="154.06" y="2246.3" font-size="46.5">0</text>
<text x="128.26" y="2121.38" font-size="46.5" letter-spacing="0.07">25</text>
<text x="128.74" y="1996.45" font-size="46.5" letter-spacing="-0.54">50</text>
<text x="128.22" y="1871.52" font-size="46.5" letter-spacing="0.11">75</text>
<text x="101.86" y="1746.6" font-size="46.5" letter-spacing="0.24">100</text>
<text x="101.86" y="1621.67" font-size="46.5" letter-spacing="0.31">125</text>
<text x="101.86" y="1496.75" font-size="46.5" letter-spacing="0.24">150</text>
<text x="101.86" y="1371.83" font-size="46.5" letter-spacing="0.31">175</text>
<text x="1170.81" y="84.1" font-size="53.5" letter-spacing="1.31">2025-04-07</text>
<text x="3272.11" y="178.9" font-size="45" letter-spacing="-0.77">E &lt; 1e6</text>
<text x="3272.37" y="239.75" font-size="45" letter-spacing="0.1">1e6 to 1e7</text>
<text x="3272.37" y="300.6" font-size="45" letter-spacing="0.15">1e7 to 1e8</text>
<text x="3272.37" y="361.45" font-size="45" letter-spacing="0.08">1e8 to 1e9</text>
<text x="3272.37" y="422.3" font-size="45" letter-spacing="0.23">1e9 to 1e10</text>
<text x="3272.37" y="483.15" font-size="45" letter-spacing="-0.19">1e10 to 1e11</text>
<text x="3272.37" y="544" font-size="45" letter-spacing="0.4">1e11 to 1e12</text>
<text x="3272.37" y="604.85" font-size="45" letter-spacing="0.21">1e12 to 1e13</text>
<text x="3272.37" y="665.7" font-size="45" letter-spacing="0.38">1e13 to 1e14</text>
<text x="3272.37" y="726.55" font-size="45" letter-spacing="0.28">1e14 to 1e15</text>
<text x="3272.37" y="787.4" font-size="45" letter-spacing="0.29">1e15 to 1e16</text>
<text x="3272.37" y="848.25" font-size="45" letter-spacing="0.28">1e16 to 1e17</text>
<text x="3272.37" y="909.1" font-size="45" letter-spacing="0.34">1e17 to 1e18</text>
<text x="3272.37" y="969.95" font-size="45" letter-spacing="-0.13">1e18 &lt;= E</text>
</g>
<g fill="#add8e6" stroke="#000" stroke-width="4.17" stroke-linejoin="miter">
<rect x="341.1" y="2215.51" width="48.07" height="14.99"/>
<rect x="389.17" y="2220.51" width="48.07" height="9.99"/>
<rect x="437.24" y="2225.5" width="48.07" height="5"/>
<rect x="485.31" y="2225.5" width="48.07" height="5"/>
<rect x="581.45" y="2225.5" width="48.07" height="5"/>
<rect x="629.53" y="2220.51" width="48.07" height="9.99"/>
<rect x="821.81" y="2220.51" width="48.07" height="9.99"/>
<rect x="869.88" y="2225.5" width="48.07" height="5"/>
<rect x="917.95" y="2225.5" width="48.07" height="5"/>
<rect x="966.02" y="2225.5" width="48.07" height="5"/>
<rect x="1014.09" y="2215.51" width="48.07" height="14.99"/>
<rect x="1062.16" y="2205.51" width="48.07" height="24.98"/>
<rect x="1110.23" y="2165.54" width="48.07" height="64.96"/>
<rect x="1158.31" y="2155.55" width="48.07" height="74.95"/>
<rect x="1206.38" y="2035.62" width="48.07" height="194.88"/>
<rect x="1254.45" y="2150.55" width="48.07" height="79.95"/>
<rect x="1302.52" y="1301.06" width="48.07" height="929.44"/>
<rect x="1350.59" y="2130.56" width="48.07" height="99.94"/>
<rect x="1398.66" y="2220.51" width="48.07" height="9.99"/>
<rect x="1446.73" y="2210.51" width="48.07" height="19.99"/>
<rect x="1494.8" y="2225.5" width="48.07" height="5"/>
<rect x="1542.87" y="2210.51" width="48.07" height="19.99"/>
<rect x="1590.94" y="2200.52" width="48.07" height="29.98"/>
<rect x="1639.01" y="2155.55" width="48.07" height="74.95"/>
<rect x="1687.09" y="2145.55" width="48.07" height="84.95"/>
<rect x="1735.16" y="2180.53" width="48.07" height="49.97"/>
<rect x="1783.23" y="2050.61" width="48.07" height="179.89"/>
<rect x="1831.3" y="2115.57" width="48.07" height="114.93"/>
<rect x="1879.37" y="2115.57" width="48.07" height="114.93"/>
<rect x="1927.44" y="2150.55" width="48.07" height="79.95"/>
<rect x="1975.51" y="2210.51" width="48.07" height="19.99"/>
<rect x="2023.58" y="2150.55" width="48.07" height="79.95"/>
<rect x="2071.65" y="2140.55" width="48.07" height="89.95"/>
<rect x="2119.72" y="2145.55" width="48.07" height="84.95"/>
<rect x="2167.79" y="2035.62" width="48.07" height="194.88"/>
<rect x="2215.87" y="2105.57" width="48.07" height="124.92"/>
<rect x="2263.94" y="1995.64" width="48.07" height="234.86"/>
<rect x="2312.01" y="2010.63" width="48.07" height="219.87"/>
<rect x="2360.08" y="2145.55" width="48.07" height="84.95"/>
<rect x="2408.15" y="2165.54" width="48.07" height="64.96"/>
<rect x="2456.22" y="2200.52" width="48.07" height="29.98"/>
<rect x="2504.29" y="2210.51" width="48.07" height="19.99"/>
<rect x="2552.36" y="2185.53" width="48.07" height="44.97"/>
<rect x="2600.43" y="2200.52" width="48.07" height="29.98"/>
<rect x="2648.5" y="2220.51" width="48.07" height="9.99"/>
<rect x="2696.57" y="2225.5" width="48.07" height="5"/>
<rect x="2744.65" y="2225.5" width="48.07" height="5"/>
<rect x="2840.79" y="2225.5" width="48.07" height="5"/>
<rect x="2936.93" y="2220.51" width="48.07" height="9.99"/>
</g>
<g stroke="#a8a8a8" stroke-width="2" stroke-dasharray="7.7 3.35">
<line x1="688" y1="2230.5" x2="688" y2="1255.5"/>
<line x1="1169" y1="2230.5" x2="1169" y2="1255.5"/>
<line x1="1650" y1="2230.5" x2="1650" y2="1255.5"/>
<line x1="2130" y1="2230.5" x2="2130" y2="1255.5"/>
<line x1="2611" y1="2230.5" x2="2611" y2="1255.5"/>
<line x1="3092" y1="2230.5" x2="3092" y2="1255.5"/>
<line x1="209.5" y1="2230" x2="3118.5" y2="2230"/>
<line x1="209.5" y1="2106" x2="3118.5" y2="2106"/>
<line x1="209.5" y1="1981" x2="3118.5" y2="1981"/>
<line x1="209.5" y1="1856" x2="3118.5" y2="1856"/>
<line x1="209.5" y1="1731" x2="3118.5" y2="1731"/>
<line x1="209.5" y1="1606" x2="3118.5" y2="1606"/>
<line x1="209.5" y1="1481" x2="3118.5" y2="1481"/>
<line x1="209.5" y1="1356" x2="3118.5" y2="1356"/>
</g>
<g stroke="#000" stroke-width="3">
<line x1="688.5" y1="2230.5" x2="688.5" y2="2245.1"/>
<line x1="1169.5" y1="2230.5" x2="1169.5" y2="2245.1"/>
<line x1="1650.5" y1="2230.5" x2="1650.5" y2="2245.1"/>
<line x1="2130.5" y1="2230.5" x2="2130.5" y2="2245.1"/>
<line x1="2611.5" y1="2230.5" x2="2611.5" y2="2245.1"/>
<line x1="3092.5" y1="2230.5" x2="3092.5" y2="2245.1"/>
<line x1="194.9" y1="2230.5" x2="209.5" y2="2230.5"/>
<line x1="194.9" y1="2105.5" x2="209.5" y2="2105.5"/>
<line x1="194.9" y1="1980.5" x2="209.5" y2="1980.5"/>
<line x1="194.9" y1="1855.5" x2="209.5" y2="1855.5"/>
<line x1="194.9" y1="1730.5" x2="209.5" y2="1730.5"/>
<line x1="194.9" y1="1605.5" x2="209.5" y2="1605.5"/>
<line x1="194.9" y1="1480.5" x2="209.5" y2="1480.5"/>
<line x1="194.9" y1="1356.5" x2="209.5" y2="1356.5"/>
</g>
<rect x="209.5" y="1255.5" width="2909" height="975" fill="none" stroke="#000" stroke-width="3"/>
<text x="1663.5" y="1201" font-size="41.7" text-anchor="middle" font-family="'Liberation Sans', 'Noto Sans CJK JP', sans-serif">経度</text>
<text x="1663.5" y="2347" font-size="41.7" text-anchor="middle" font-family="'Liberation Sans', 'Noto Sans CJK JP', sans-serif">経度</text>
<text transform="translate(51.8,639.1) rotate(-90)" x="37" y="33" font-size="41.7" text-anchor="middle" font-family="'Liberation Sans', 'Noto Sans CJK JP', sans-serif">深さ</text>
<text transform="translate(43.0,1784.2) rotate(-90)" x="39" y="33" font-size="41.7" text-anchor="middle" font-family="'Liberation Sans', 'Noto Sans CJK JP', sans-serif">頻度</text>
<text x="1458" y="83" font-size="50" font-family="'Liberation Sans', 'Noto Sans CJK JP', sans-serif">の全国地震の経度と深さの関係</text>
</svg>
</body></html>
